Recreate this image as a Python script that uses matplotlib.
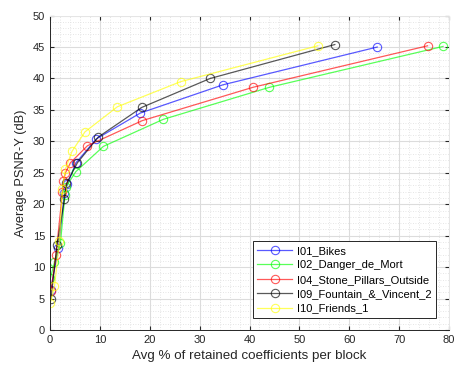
import matplotlib
matplotlib.use('Agg')
import matplotlib.pyplot as plt
from matplotlib.ticker import MultipleLocator

plt.rcParams['font.family'] = ['Liberation Sans', 'DejaVu Sans']

# I01_Bikes
bikes_x = [0.1, 1.7, 2.9, 3.5, 5.2, 9.3, 18.1, 34.7, 65.6]
bikes_y = [6.3, 13.0, 21.8, 23.2, 26.6, 30.4, 34.5, 39.0, 45.0]
# I02_Danger_de_Mort
danger_x = [0.07, 0.9, 2.1, 3.0, 3.2, 5.2, 10.7, 22.7, 44.0, 78.8]
danger_y = [8.2, 10.8, 13.9, 21.5, 22.8, 25.2, 29.2, 33.5, 38.6, 45.1]
# I04_Stone_Pillars_Outside
stone_x = [0.2, 1.2, 2.5, 2.7, 3.1, 4.1, 7.5, 18.5, 40.7, 75.7]
stone_y = [6.2, 12.0, 22.0, 23.7, 25.0, 26.6, 29.3, 33.3, 38.6, 45.2]
# I09_Fountain_&_Vincent_2
fountain_x = [0.2, 1.4, 2.9, 3.3, 5.5, 9.7, 18.4, 32.1, 57.1]
fountain_y = [5.0, 13.5, 20.8, 23.3, 26.6, 30.7, 35.4, 40.0, 45.4]
# I10_Friends_1
friends_x = [0.07, 0.9, 1.9, 2.5, 3.1, 4.4, 7.0, 13.5, 26.2, 53.7]
friends_y = [4.3, 7.0, 14.1, 22.5, 25.6, 28.4, 31.5, 35.5, 39.5, 45.2]

series = [
    (bikes_x, bikes_y, 'I01_Bikes', '#0000ff'),
    (danger_x, danger_y, 'I02_Danger_de_Mort', '#00ff00'),
    (stone_x, stone_y, 'I04_Stone_Pillars_Outside', '#ff0000'),
    (fountain_x, fountain_y, 'I09_Fountain_&_Vincent_2', '#000000'),
    (friends_x, friends_y, 'I10_Friends_1', '#ffff00'),
]

fig = plt.figure(figsize=(4.55, 3.69), dpi=100)
fig.patch.set_facecolor('white')
ax = fig.add_axes([0.1099, 0.1057, 0.877, 0.852])

for xs, ys, name, col in series:
    ax.plot(xs, ys, '-o', color=col, alpha=0.65, lw=0.9, markersize=6,
            markerfacecolor='none', markeredgewidth=0.8, label=name)

ax.set_xlim(0, 80)
ax.set_ylim(0, 50)
ax.xaxis.set_major_locator(MultipleLocator(10))
ax.yaxis.set_major_locator(MultipleLocator(5))
ax.xaxis.set_minor_locator(MultipleLocator(2))
ax.yaxis.set_minor_locator(MultipleLocator(1))
ax.grid(which='major', color='#dcdcdc', lw=0.8)
ax.grid(which='minor', color='#dedede', lw=0.6, ls=(0, (1, 2)))
ax.set_axisbelow(True)
ax.tick_params(which='both', direction='in', labelsize=8, colors='#262626')
ax.tick_params(which='minor', length=0)
ax.tick_params(which='major', length=3, top=True, right=True)
for s in ['left', 'bottom']:
    ax.spines[s].set_color('#262626')
for s in ['top', 'right']:
    ax.spines[s].set_color('#e6e6e6')
for sp in ax.spines.values():
    sp.set_linewidth(0.7)

ax.set_xlabel('Avg % of retained coefficients per block', fontsize=9.6, color='#262626')
ax.set_ylabel('Average PSNR-Y (dB)', fontsize=9.3, color='#262626')

leg = ax.legend(loc='lower right', bbox_to_anchor=(0.967, 0.038), fontsize=8,
                handlelength=3.1, fancybox=False, framealpha=1, edgecolor='#262626',
                borderpad=0.4, labelspacing=0.4, handletextpad=0.45,
                borderaxespad=0)
leg.get_frame().set_linewidth(0.7)

fig.savefig('out.png', dpi=100, facecolor='white')
